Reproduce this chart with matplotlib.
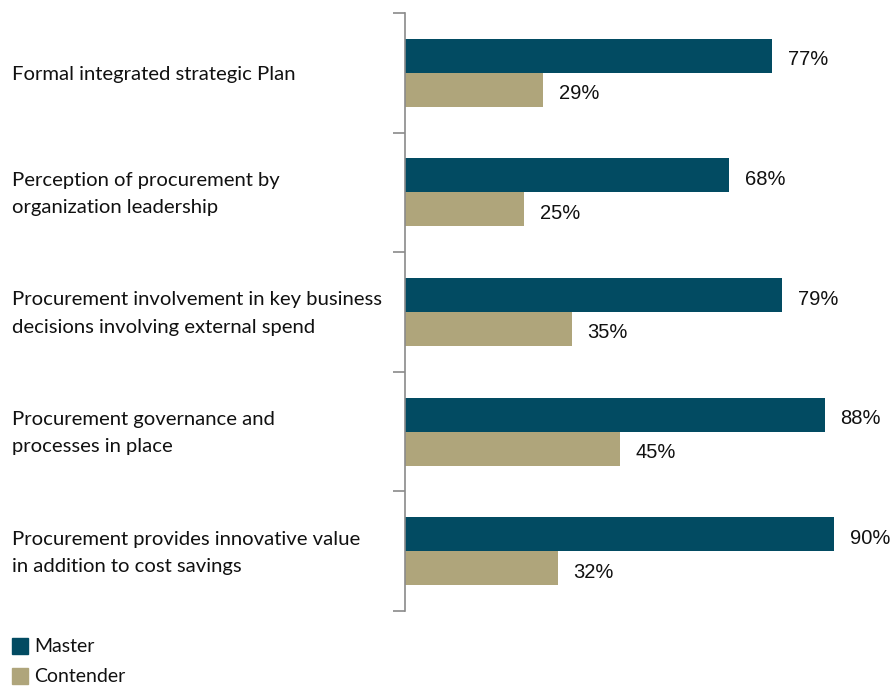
import matplotlib.pyplot as plt
import numpy as np
from matplotlib.patches import Rectangle
from matplotlib.transforms import blended_transform_factory, offset_copy

# Share of respondents per capability, by maturity group
categories = [
    "Formal integrated strategic Plan",
    "Perception of procurement by\norganization leadership",
    "Procurement involvement in key business\ndecisions involving external spend",
    "Procurement governance and\nprocesses in place",
    "Procurement provides innovative value\nin addition to cost savings",
]
master = [77, 68, 79, 88, 90]
contender = [29, 25, 35, 45, 32]
series_names = ["Master", "Contender"]

MASTER_COLOR = "#024b62"
CONTENDER_COLOR = "#afa57b"
LABEL_FONT = "Lato"
W, H = 891, 687

fig = plt.figure(figsize=(W / 100, H / 100), dpi=100)
ax = fig.add_axes([405 / W, 1 - 611 / H, 477 / W, 598 / H])

y = np.arange(len(categories))
h = 0.284
ax.barh(y - h / 2, master, height=h, color=MASTER_COLOR)
ax.barh(y + h / 2, contender, height=h, color=CONTENDER_COLOR)

# value labels sit a little below the bar centre
val_trans = offset_copy(ax.transData, fig=fig, x=0, y=-4, units="dots")
for yi, v in zip(y - h / 2, master):
    ax.text(v + 3.3, yi, f"{v}%", va="center", ha="left", fontsize=14.5,
            family="Liberation Sans", color="#111111", clip_on=False,
            transform=val_trans)
for yi, v in zip(y + h / 2, contender):
    ax.text(v + 3.3, yi, f"{v}%", va="center", ha="left", fontsize=14.5,
            family="Liberation Sans", color="#111111", clip_on=False,
            transform=val_trans)

ax.set_xlim(0, 100)
ax.set_ylim(len(categories) - 0.5, -0.5)

for side in ("top", "right", "bottom"):
    ax.spines[side].set_visible(False)
ax.spines["left"].set_color("#8a8a8a")
ax.spines["left"].set_linewidth(1.2)
ax.set_xticks([])
ax.set_yticks(np.arange(-0.5, len(categories), 1.0))
ax.set_yticklabels([])
ax.tick_params(axis="y", length=9, width=1.2, color="#8a8a8a", direction="out")

trans = offset_copy(blended_transform_factory(fig.transFigure, ax.transData),
                    fig=fig, x=0, y=-1.5, units="dots")
for yi, label in zip(y, categories):
    fig.text(12 / W, yi, label, transform=trans, ha="left", va="center",
             fontsize=14.6, family=LABEL_FONT, color="#111111", linespacing=1.72)

# legend: small square swatches stacked under the category labels
for i, (name, color) in enumerate(zip(series_names, [MASTER_COLOR, CONTENDER_COLOR])):
    top = 638 + i * 30
    fig.add_artist(Rectangle((12 / W, 1 - (top + 16) / H), 16 / W, 16 / H,
                             transform=fig.transFigure, color=color))
    fig.text(34 / W, 1 - (top + 9) / H, name, ha="left", va="center",
             fontsize=14, family=LABEL_FONT, color="#111111")

fig.savefig("out.png", dpi=100)
